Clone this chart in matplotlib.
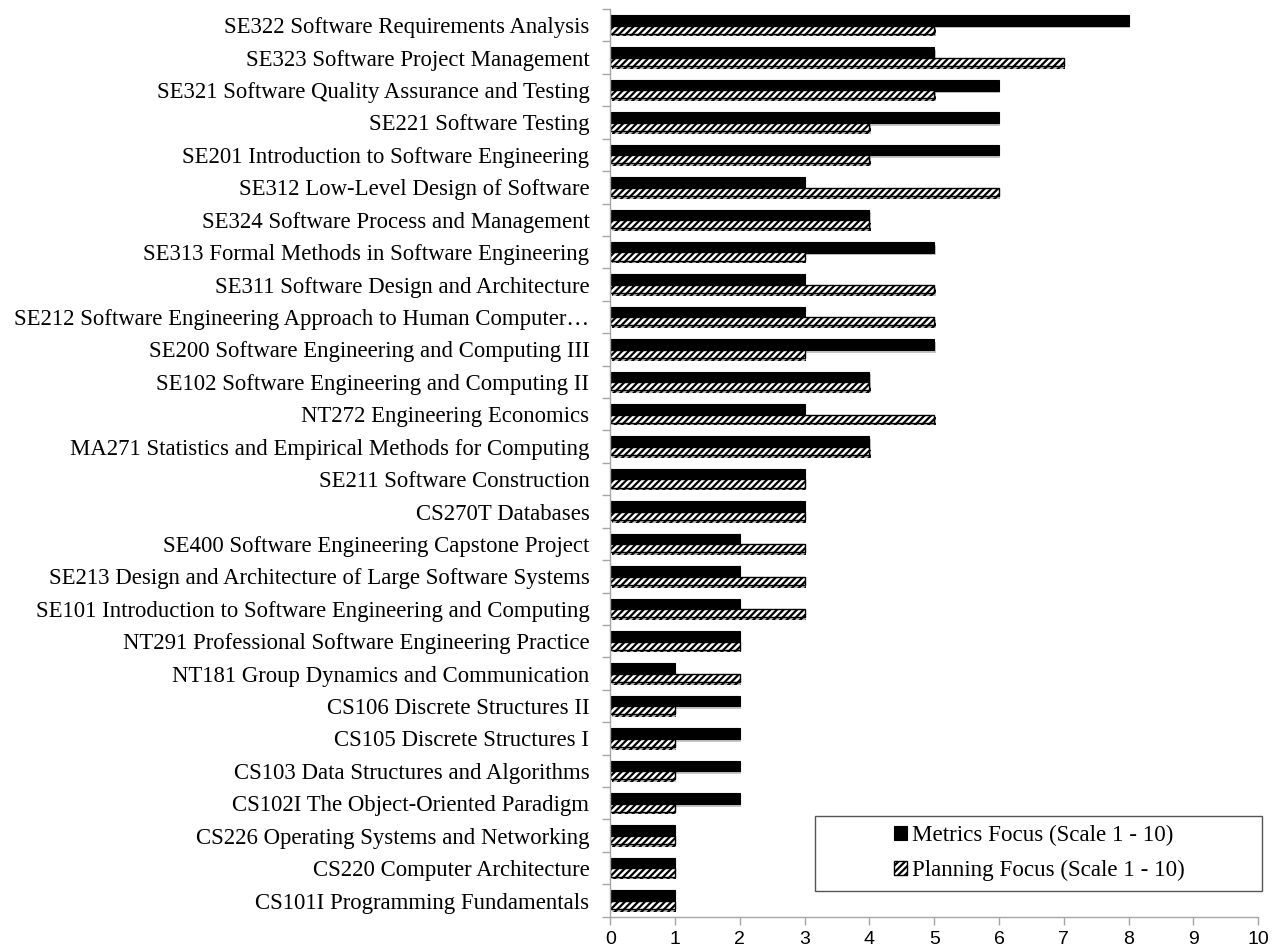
import numpy as np
import matplotlib
matplotlib.use("Agg")
import matplotlib.pyplot as plt
from matplotlib import patheffects as pe
from matplotlib.patches import Rectangle
from matplotlib.ticker import FixedLocator

# Course list, top to bottom
courses = [
    "SE322 Software Requirements Analysis",
    "SE323 Software Project Management",
    "SE321 Software Quality Assurance and Testing",
    "SE221 Software Testing",
    "SE201 Introduction to Software Engineering",
    "SE312 Low-Level Design of Software",
    "SE324 Software Process and Management",
    "SE313 Formal Methods in Software Engineering",
    "SE311 Software Design and Architecture",
    "SE212 Software Engineering Approach to Human Computer\u2026",
    "SE200 Software Engineering and Computing III",
    "SE102 Software Engineering and Computing II",
    "NT272 Engineering Economics",
    "MA271 Statistics and Empirical Methods for Computing",
    "SE211 Software Construction",
    "CS270T Databases",
    "SE400 Software Engineering Capstone Project",
    "SE213 Design and Architecture of Large Software Systems",
    "SE101 Introduction to Software Engineering and Computing",
    "NT291 Professional Software Engineering Practice",
    "NT181 Group Dynamics and Communication",
    "CS106 Discrete Structures II",
    "CS105 Discrete Structures I",
    "CS103 Data Structures and Algorithms",
    "CS102I The Object-Oriented Paradigm",
    "CS226 Operating Systems and Networking",
    "CS220 Computer Architecture",
    "CS101I Programming Fundamentals",
]
metrics = [8, 5, 6, 6, 6, 3, 4, 5, 3, 3, 5, 4, 3, 4, 3, 3, 2, 2, 2, 2, 1, 2, 2, 2, 2, 1, 1, 1]
planning = [5, 7, 5, 4, 4, 6, 4, 3, 5, 5, 3, 4, 5, 4, 3, 3, 3, 3, 3, 2, 2, 1, 1, 1, 1, 1, 1, 1]
x_ticks = list(range(0, 11))

plt.rcParams["hatch.linewidth"] = 1.6
serif = ["Liberation Serif", "DejaVu Serif"]
sans = ["Liberation Sans Narrow", "Liberation Sans", "DejaVu Sans"]

fig = plt.figure(figsize=(12.82, 9.49), dpi=100)
ax = fig.add_axes([0.476, 0.034, 0.5055, 0.9565])

y = np.arange(len(courses))
shadow = [pe.SimplePatchShadow(offset=(1, -2), shadow_rgbFace="0.55", alpha=0.5), pe.Normal()]

b1 = ax.barh(y - 0.15, metrics, height=0.33, color="black", edgecolor="black",
             linewidth=0.8, label="Metrics Focus (Scale 1 - 10)")
b2 = ax.barh(y + 0.135, planning, height=0.25, color="white", edgecolor="black",
             hatch="/////", linewidth=1.0, label="Planning Focus (Scale 1 - 10)")
for p in list(b1) + list(b2):
    p.set_path_effects(shadow)

ax.set_ylim(len(courses) - 0.5, -0.5)
ax.set_xlim(0, 10)
ax.set_xticks(x_ticks)
ax.set_xticklabels([str(t) for t in x_ticks], family=sans, fontsize=14)
ax.set_yticks(y)
ax.set_yticklabels(courses, family=serif, fontsize=16.4)
ax.yaxis.set_minor_locator(FixedLocator(np.arange(-0.5, len(courses), 1)))

ax.tick_params(axis="y", which="major", length=0, pad=15)
ax.tick_params(axis="y", which="minor", length=6, color="#a6a6a6", width=1)
ax.tick_params(axis="x", which="major", length=6, color="#a6a6a6", width=1, pad=4)

for s in ["top", "right"]:
    ax.spines[s].set_visible(False)
for s in ["left", "bottom"]:
    ax.spines[s].set_color("#a6a6a6")
    ax.spines[s].set_linewidth(1)

# legend box drawn separately so the entries sit centred in a wide frame
ax.add_patch(Rectangle((0.316, 0.0286), 0.69, 0.0826, transform=ax.transAxes,
                       facecolor="white", edgecolor="#555555", linewidth=1,
                       clip_on=False, zorder=4))
leg = ax.legend(loc="center", bbox_to_anchor=(0.662, 0.070), prop={"family": serif, "size": 16.6},
                frameon=False, handlelength=0.6, handleheight=0.6, handletextpad=0.2,
                labelspacing=0.6, borderpad=0)
leg.set_zorder(5)
for hnd in leg.legend_handles:
    hnd.set_path_effects([])

fig.savefig("out.png", dpi=100)
